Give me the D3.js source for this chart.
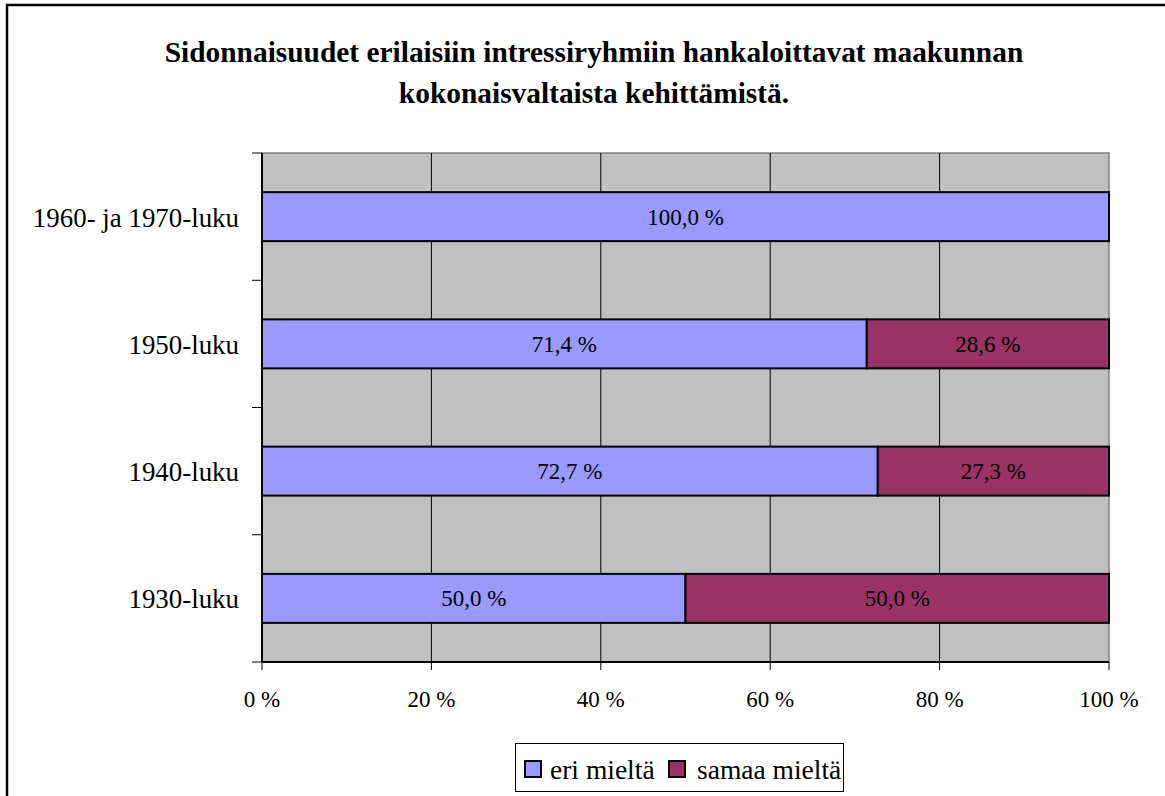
<!DOCTYPE html>
<html>
<head>
<meta charset="utf-8">
<script src="https://cdn.jsdelivr.net/npm/d3@7"></script>
<style>
  html, body { margin: 0; padding: 0; background: #fff; }
  svg { display: block; }
</style>
</head>
<body>
<svg id="chart" width="1165" height="796" font-family="Liberation Serif, Times New Roman, serif"></svg>
<script>
// Decades, top to bottom order as listed in the chart
const categories = ["1960- ja 1970-luku", "1950-luku", "1940-luku", "1930-luku"];
const seriesNames = ["eri mieltä", "samaa mieltä"];
const eriMielta = [100.0, 71.4, 72.7, 50.0];
const samaaMielta = [0.0, 28.6, 27.3, 50.0];
const xTicks = [0, 20, 40, 60, 80, 100];
const titleLines = [
  "Sidonnaisuudet erilaisiin intressiryhmiin hankaloittavat maakunnan",
  "kokonaisvaltaista kehittämistä."
];
const colors = ["#9999FF", "#993366"];

const FONT = "Liberation Serif, Times New Roman, serif";
const svg = d3.select("#chart");
const fmt = v => v.toFixed(1).replace(".", ",") + " %";

// Outer chart frame
svg.append("rect")
  .attr("x", 7).attr("y", 5).attr("width", 1200).attr("height", 840)
  .attr("fill", "none").attr("stroke", "#000").attr("stroke-width", 2.5);

// Title
svg.append("g").selectAll("text").data(titleLines).join("text")
  .attr("x", 594).attr("y", (d, i) => 62 + i * 41)
  .attr("text-anchor", "middle").attr("font-family", FONT)
  .attr("font-weight", "bold").attr("font-size", 29.4)
  .text(d => d);

const plot = { left: 262, right: 1109, top: 153, bottom: 662 };

const x = d3.scaleLinear().domain([0, 100]).range([plot.left, plot.right]);
const y = d3.scaleBand().domain(categories).range([plot.top, plot.bottom])
  .paddingInner(0.615).paddingOuter(0.3075);
const yOuter = d3.scaleBand().domain(categories).range([plot.top, plot.bottom]);

// Plot background
svg.append("rect")
  .attr("x", plot.left).attr("y", plot.top)
  .attr("width", plot.right - plot.left).attr("height", plot.bottom - plot.top)
  .attr("fill", "#C0C0C0").attr("stroke", "#808080").attr("stroke-width", 1.5);

// Vertical gridlines
svg.append("g").selectAll("line").data(xTicks.slice(1, -1)).join("line")
  .attr("x1", d => x(d)).attr("x2", d => x(d))
  .attr("y1", plot.top).attr("y2", plot.bottom)
  .attr("stroke", "#000").attr("stroke-width", 1);

// Stacked bars
const stackData = categories.map((c, i) => ({ cat: c, a: eriMielta[i], b: samaaMielta[i] }));
const stacked = d3.stack().keys(["a", "b"])(stackData);

const barG = svg.append("g");
stacked.forEach((layer, li) => {
  const g = barG.append("g");
  layer.forEach(seg => {
    const v = seg[1] - seg[0];
    if (v <= 0) return;
    g.append("rect")
      .attr("x", x(seg[0])).attr("y", y(seg.data.cat))
      .attr("width", x(seg[1]) - x(seg[0])).attr("height", y.bandwidth())
      .attr("fill", colors[li]).attr("stroke", "#000").attr("stroke-width", 2);
    g.append("text")
      .attr("x", (x(seg[0]) + x(seg[1])) / 2)
      .attr("y", y(seg.data.cat) + y.bandwidth() / 2 + 8)
      .attr("text-anchor", "middle").attr("font-size", 23).attr("font-family", FONT)
      .text(fmt(v));
  });
});

// Y axis
const yAxis = svg.append("g");
yAxis.append("line")
  .attr("x1", plot.left).attr("x2", plot.left)
  .attr("y1", plot.top).attr("y2", plot.bottom)
  .attr("stroke", "#000").attr("stroke-width", 2);
const yTickPos = categories.map(c => yOuter(c)).concat([plot.bottom]);
yAxis.selectAll("line.tick").data(yTickPos).join("line").attr("class", "tick")
  .attr("x1", plot.left - 10).attr("x2", plot.left)
  .attr("y1", d => d).attr("y2", d => d)
  .attr("stroke", "#000").attr("stroke-width", 1);
yAxis.selectAll("text").data(categories).join("text")
  .attr("x", 239)
  .attr("y", d => yOuter(d) + yOuter.bandwidth() / 2 + 10)
  .attr("text-anchor", "end").attr("font-size", 26.9).attr("font-family", FONT)
  .text(d => d);

// X axis
const xAxis = svg.append("g");
xAxis.append("line")
  .attr("x1", plot.left).attr("x2", plot.right)
  .attr("y1", plot.bottom).attr("y2", plot.bottom)
  .attr("stroke", "#000").attr("stroke-width", 2);
xAxis.selectAll("line.tick").data(xTicks).join("line").attr("class", "tick")
  .attr("x1", d => x(d)).attr("x2", d => x(d))
  .attr("y1", plot.bottom).attr("y2", plot.bottom + 8)
  .attr("stroke", "#000").attr("stroke-width", 1);
xAxis.selectAll("text").data(xTicks).join("text")
  .attr("x", d => x(d)).attr("y", 707)
  .attr("text-anchor", "middle").attr("font-size", 23).attr("font-family", FONT)
  .text(d => d + " %");

// Legend
const legend = svg.append("g");
legend.append("rect")
  .attr("x", 515.5).attr("y", 743.5).attr("width", 328).attr("height", 48)
  .attr("fill", "#fff").attr("stroke", "#000").attr("stroke-width", 1);
const legendX = [525, 669];
const legendTextX = [550, 697];
seriesNames.forEach((n, i) => {
  legend.append("rect")
    .attr("x", legendX[i]).attr("y", 761).attr("width", 16).attr("height", 16)
    .attr("fill", colors[i]).attr("stroke", "#000").attr("stroke-width", 2);
  legend.append("text")
    .attr("x", legendTextX[i]).attr("y", 779)
    .attr("font-size", 27.5).attr("font-family", FONT)
    .text(n);
});
</script>
</body>
</html>
